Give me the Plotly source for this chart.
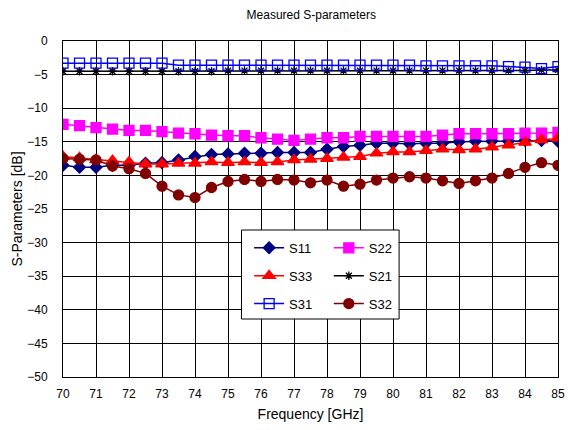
import plotly.graph_objects as go

freq = [70 + 0.5 * i for i in range(31)]

s11 = [-18.5, -18.8, -18.8, -18.5, -18.5, -18.2, -18.1, -17.7, -17.2, -16.9, -16.8,
       -16.7, -16.7, -16.6, -16.6, -16.6, -16.1, -15.7, -15.5, -15.2, -15.2,
       -15.3, -15.2, -15.2, -15.0, -14.9, -14.9, -14.9, -14.8, -14.8, -14.9]
s22 = [-12.4, -12.6, -12.9, -13.1, -13.3, -13.3, -13.5, -13.7, -13.8, -14.0, -14.1,
       -14.1, -14.4, -14.6, -14.8, -14.6, -14.4, -14.4, -14.2, -14.2, -14.2,
       -14.2, -14.2, -14.0, -13.8, -13.8, -13.8, -13.8, -13.7, -13.7, -13.6]
s33 = [-17.2, -17.4, -17.7, -17.8, -18.0, -18.3, -18.3, -18.2, -18.2, -18.0, -18.1,
       -18.0, -18.1, -18.0, -17.7, -17.6, -17.5, -17.3, -17.2, -16.7, -16.5,
       -16.5, -16.3, -16.1, -16.2, -16.1, -15.8, -15.5, -15.1, -14.7, -14.5]
s21 = [-4.5, -4.5, -4.5, -4.5, -4.5, -4.5, -4.5, -4.5, -4.5, -4.5, -4.4,
       -4.4, -4.4, -4.4, -4.4, -4.4, -4.4, -4.4, -4.4, -4.4, -4.4,
       -4.4, -4.4, -4.4, -4.4, -4.4, -4.4, -4.4, -4.4, -4.3, -4.3]
s31 = [-3.3, -3.3, -3.3, -3.3, -3.3, -3.3, -3.3, -3.6, -3.6, -3.6, -3.6,
       -3.6, -3.6, -3.6, -3.6, -3.6, -3.6, -3.6, -3.6, -3.6, -3.6,
       -3.6, -3.7, -3.7, -3.7, -3.7, -3.7, -3.8, -3.9, -4.1, -3.8]
s32 = [-17.5, -17.6, -17.7, -18.6, -19.0, -19.7, -21.6, -22.9, -23.3, -21.8, -20.9,
       -20.6, -20.9, -20.6, -20.7, -21.1, -20.7, -21.6, -21.3, -20.7, -20.4,
       -20.2, -20.4, -20.8, -21.2, -20.8, -20.4, -19.7, -18.8, -18.1, -18.5]

# name, values, colour, symbol, size, legend column
series = [
    ("S11", s11, "#000080", "diamond", 9, "legend"),
    ("S22", s22, "#FF00FF", "square", 10, "legend2"),
    ("S33", s33, "#FF0000", "triangle-up", 11, "legend"),
    ("S21", s21, "#000000", "asterisk-open", 7, "legend2"),
    ("S31", s31, "#0000FF", "square-open", 10, "legend"),
    ("S32", s32, "#800000", "circle", 10, "legend2"),
]

FONT = "Liberation Sans, Arial, sans-serif"

fig = go.Figure()
for name, vals, color, sym, size, leg in series:
    fig.add_trace(go.Scatter(
        x=freq, y=vals, name=name, mode="lines+markers",
        legend=leg, legendgroup=name,
        line=dict(color=color, width=1.5),
        marker=dict(symbol=sym, size=size, color=color,
                    line=dict(color=color, width=1.3)),
    ))

leg_common = dict(
    orientation="v", yanchor="top", xanchor="left",
    bgcolor="rgba(0,0,0,0)", borderwidth=0,
    font=dict(size=13), traceorder="grouped", tracegroupgap=8,
)

fig.update_layout(
    width=569, height=430,
    margin=dict(l=63, r=4, t=41, b=53),
    paper_bgcolor="white", plot_bgcolor="white",
    font=dict(family=FONT, size=12, color="black"),
    title=dict(text="Measured S-parameters", x=0.547, xanchor="center",
               y=0.965, yanchor="middle", font=dict(size=12)),
    showlegend=True,
    legend=dict(x=0.376, y=0.429, **leg_common),
    legend2=dict(x=0.537, y=0.429, **leg_common),
    shapes=[dict(type="rect", xref="paper", yref="paper",
                 x0=0.3606, x1=0.679, y0=0.1726, y1=0.4375,
                 fillcolor="white", line=dict(color="black", width=1),
                 layer="above")],
)
fig.update_xaxes(
    range=[70, 85], dtick=1, tick0=70,
    showgrid=True, gridcolor="black", gridwidth=1,
    showline=True, linecolor="black", mirror=True,
    ticks="", ticklabelstandoff=6, ticklabeloverflow="allow",
    title=dict(text="Frequency [GHz]", standoff=8),
    zeroline=False,
)
fig.update_yaxes(
    range=[-50, 0], dtick=5,
    showgrid=True, gridcolor="black", gridwidth=1,
    showline=True, linecolor="black", mirror=True,
    ticks="", ticklabelstandoff=12,
    title=dict(text="S-Parameters [dB]", standoff=1),
    zeroline=False,
)

fig.write_html("out.html")
